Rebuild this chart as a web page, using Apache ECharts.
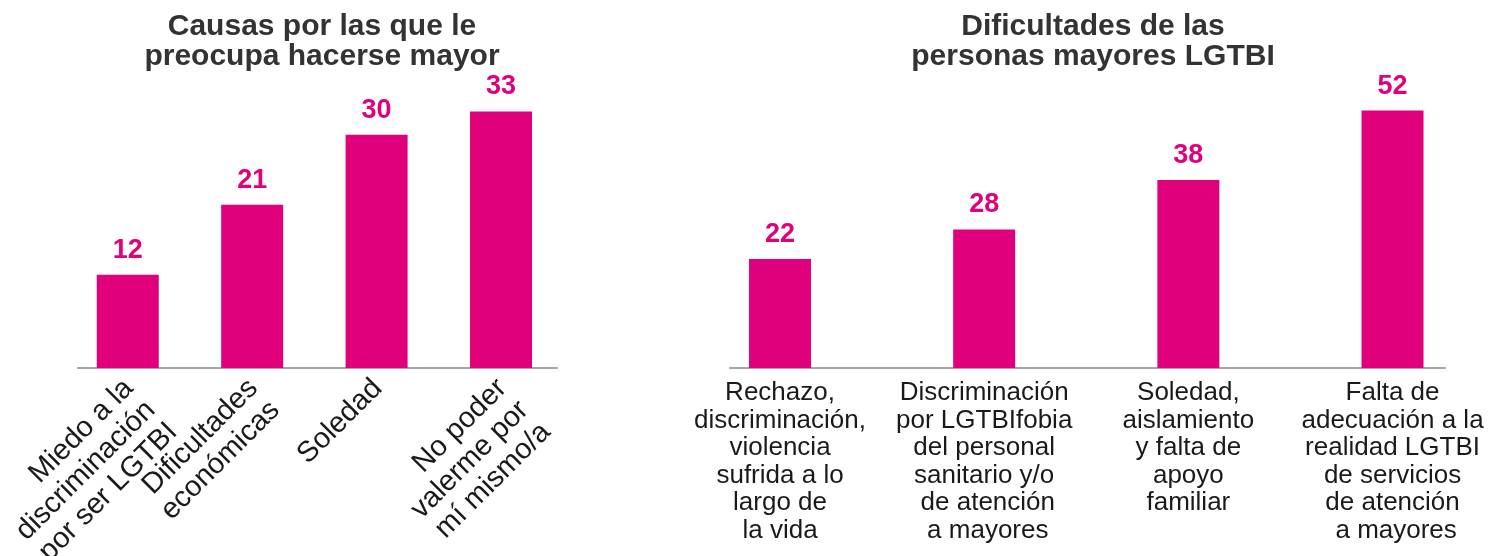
<!DOCTYPE html>
<html>
<head>
<meta charset="utf-8">
<title>Personas mayores LGTBI</title>
<script src="https://cdn.jsdelivr.net/npm/echarts@6/dist/echarts.min.js"></script>
<style>
  html, body { margin: 0; padding: 0; background: #fff; }
  #chart { width: 1489px; height: 556px; }
</style>
</head>
<body>
<div id="chart"></div>
<script>
// Data
const causasLabels = [
  'Miedo a la\ndiscriminación\npor ser LGTBI',
  'Dificultades\neconómicas',
  'Soledad',
  'No poder\nvalerme por\nmí mismo/a'
];
const causasValues = [12, 21, 30, 33];

const dificultadesLabels = [
  'Rechazo,\ndiscriminación,\nviolencia\nsufrida a lo\nlargo de\nla vida',
  'Discriminación\npor LGTBIfobia\ndel personal\nsanitario y/o\n de atención\n a mayores',
  'Soledad,\naislamiento\ny falta de\napoyo\nfamiliar',
  'Falta de\nadecuación a la\nrealidad LGTBI\nde servicios\nde atención\n a mayores'
];
const dificultadesValues = [22, 28, 38, 52];

// bar slots on the x axis (0..3)
const slots = [0, 1, 2, 3];

const PINK = '#e0007b';
const FONT = '"Liberation Sans", Arial, sans-serif';

function pairs(values) {
  return slots.map((s, i) => [s, values[i]]);
}

// Label positions: the real slots plus a blank one at each axis end.
// ECharts' min/max label check then drops the blanks instead of a real label.
function labelValues(min, max) {
  return [min].concat(slots, [max]);
}

const chart = echarts.init(document.getElementById('chart'));

const titleStyle = { fontSize: 30, fontWeight: 'bold', lineHeight: 30, color: '#333', fontFamily: FONT };
const valueLabel = {
  show: true, position: 'top', distance: 11,
  formatter: p => p.value[1],
  fontSize: 27, fontWeight: 'bold', color: PINK, fontFamily: FONT
};

const option = {
  animation: false,
  textStyle: { fontFamily: FONT },

  title: [
    {
      text: 'Causas por las que le\npreocupa hacerse mayor',
      left: 317, top: 7, textAlign: 'center',
      textStyle: titleStyle
    },
    {
      text: 'Dificultades de las\npersonas mayores LGTBI',
      left: 1088, top: 7, textAlign: 'center',
      textStyle: titleStyle
    }
  ],

  grid: [
    { left: 78, top: 57, width: 479, height: 311, outerBoundsMode: 'none' },
    { left: 730, top: 71, width: 715, height: 297, outerBoundsMode: 'none' }
  ],

  xAxis: [
    {
      type: 'value', gridIndex: 0, min: -0.40, max: 3.45,
      axisLine: { show: true, onZero: false, lineStyle: { color: '#a6a6a6', width: 2 } },
      axisTick: { show: false },
      splitLine: { show: false },
      axisLabel: {
        customValues: labelValues(-0.40, 3.45),
        showMinLabel: false, showMaxLabel: false,
        formatter: v => causasLabels[v] || '',
        rotate: 45, align: 'right', verticalAlign: 'top', margin: -5,
        padding: [0, 14, 0, 0],
        fontSize: 29, lineHeight: 31, color: '#1a1a1a', fontFamily: FONT
      }
    },
    {
      type: 'value', gridIndex: 1, min: -0.245, max: 3.257,
      axisLine: { show: true, onZero: false, lineStyle: { color: '#a6a6a6', width: 2 } },
      axisTick: { show: false },
      splitLine: { show: false },
      axisLabel: {
        customValues: labelValues(-0.245, 3.257),
        showMinLabel: false, showMaxLabel: false,
        formatter: v => dificultadesLabels[v] || '',
        align: 'center', verticalAlign: 'top', margin: 11,
        fontSize: 26, lineHeight: 27.6, color: '#1a1a1a', fontFamily: FONT
      }
    }
  ],

  yAxis: [
    { type: 'value', gridIndex: 0, min: 0, max: 40, show: false },
    { type: 'value', gridIndex: 1, min: 0, max: 60, show: false }
  ],

  series: [
    {
      type: 'bar', xAxisIndex: 0, yAxisIndex: 0,
      data: pairs(causasValues),
      barWidth: 62,
      itemStyle: { color: PINK },
      label: valueLabel
    },
    {
      type: 'bar', xAxisIndex: 1, yAxisIndex: 1,
      data: pairs(dificultadesValues),
      barWidth: 62,
      itemStyle: { color: PINK },
      label: valueLabel
    }
  ]
};

chart.setOption(option);
window.addEventListener('resize', () => chart.resize());
</script>
</body>
</html>
